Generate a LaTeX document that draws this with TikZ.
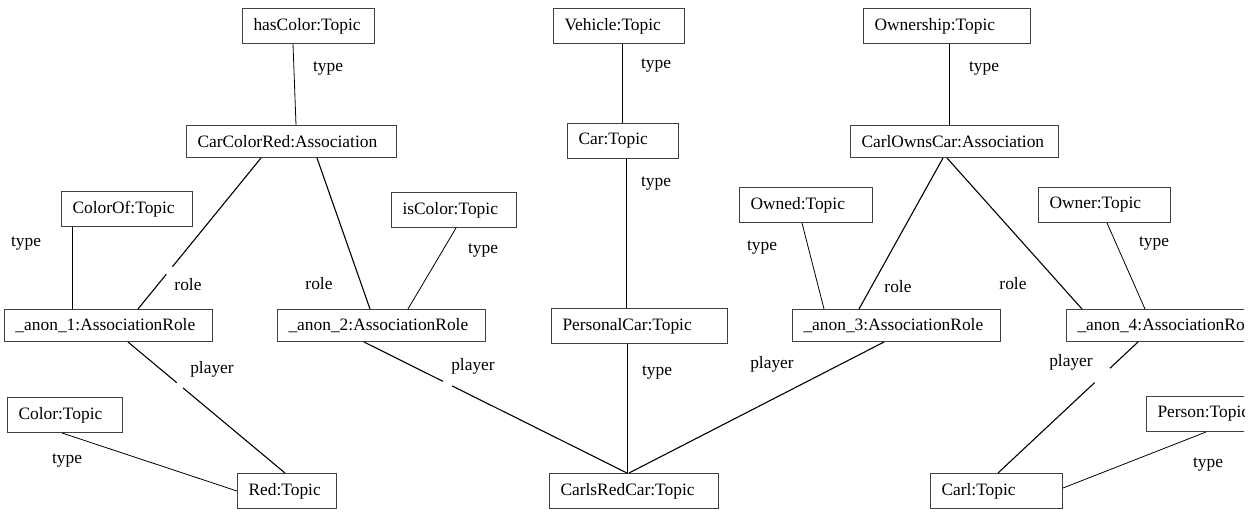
\documentclass[tikz,border=0pt]{standalone}
\usepackage{fontspec}
\setmainfont{Liberation Serif}
\usetikzlibrary{positioning,calc}

\begin{document}
\begin{tikzpicture}[x=1pt,y=-1pt,font=\fontsize{17.4}{20}\selectfont,
   topic/.style={draw=black!75,line width=1pt,anchor=north west,text width=#1,
                 align=left,inner xsep=11pt,inner ysep=0pt,minimum height=35pt},
   assoc/.style={topic=#1,minimum height=32pt},
   lbl/.style={inner sep=0pt},
   tline/.style={line width=0.8pt},
   rline/.style={line width=1.1pt}]
   \useasboundingbox (0,0) rectangle (1256,512);
   \clip (0,0) rectangle (1244,512);
   % topics and associations
   \node[topic=110pt] (hc) at (242,8) {hasColor:Topic};
   \node[topic=109pt] (veh) at (553,8) {Vehicle:Topic};
   \node[topic=145pt] (own) at (863,8) {Ownership:Topic};
   \node[assoc=188pt] (ccr) at (186,125) {CarColorRed:Association};
   \node[topic=89pt] (car) at (567,123) {Car:Topic};
   \node[assoc=186pt] (coc) at (850,125) {CarlOwnsCar:Association};
   \node[topic=109pt] (cof) at (61,191) {ColorOf:Topic};
   \node[topic=103pt] (isc) at (391,192) {isColor:Topic};
   \node[topic=111pt] (owd) at (739,187) {Owned:Topic};
   \node[topic=110pt] (owr) at (1038,187) {Owner:Topic};
   \node[assoc=186pt] (a1) at (4,309) {\_anon\_1:AssociationRole};
   \node[assoc=186pt] (a2) at (277,309) {\_anon\_2:AssociationRole};
   \node[topic=154pt] (pc) at (551,308) {PersonalCar:Topic};
   \node[assoc=186pt] (a3) at (792,309) {\_anon\_3:AssociationRole};
   \node[assoc=186pt] (a4) at (1066,309) {\_anon\_4:AssociationRole};
   \node[topic=93pt] (col) at (7,397) {Color:Topic};
   \node[topic=103pt] (per) at (1146,396) {Person:Topic};
   \node[topic=77pt] (red) at (237,473) {Red:Topic};
   \node[topic=147pt] (crc) at (549,473) {CarlsRedCar:Topic};
   \node[topic=110pt] (carl) at (930,473) {Carl:Topic};

   % edge labels
   \node[lbl] (l1) at (328,68) {type};
   \node[lbl] (l2) at (656,65) {type};
   \node[lbl] (l3) at (984,68) {type};
   \node[lbl] (l4) at (656,183) {type};
   \node[lbl] (l5) at (26,243) {type};
   \node[lbl] (l6) at (483,250) {type};
   \node[lbl] (l7) at (762,247) {type};
   \node[lbl] (l8) at (1154,243) {type};
   \node[lbl] (l9) at (188,285) {role};
   \node[lbl] (l10) at (319,284) {role};
   \node[lbl] (l11) at (898,287) {role};
   \node[lbl] (l12) at (1013,284) {role};
   \node[lbl] (l13) at (212,369) {player};
   \node[lbl] (l14) at (473,366) {player};
   \node[lbl] (l15) at (657,372) {type};
   \node[lbl] (l16) at (772,364) {player};
   \node[lbl] (l17) at (1071,362) {player};
   \node[lbl] (l18) at (67,460) {type};
   \node[lbl] (l19) at (1208,464) {type};

   \path[tline]
    ([xshift=51pt]hc.south west) edge ([xshift=110pt]ccr.north west)
    ([xshift=69pt]veh.south west) edge ([xshift=55pt]car.north west)
    ([xshift=86pt]own.south west) edge ([xshift=99pt]coc.north west)
    ([xshift=11pt]cof.south west) edge ([xshift=68pt]a1.north west)
    ([xshift=65pt]isc.south west) edge ([xshift=131pt]a2.north west)
    ([xshift=59pt]car.south west) edge ([xshift=75pt]pc.north west)
    ([xshift=63pt]owd.south west) edge ([xshift=32pt]a3.north west)
    ([xshift=69pt]owr.south west) edge ([xshift=79pt]a4.north west)
    ([xshift=55pt]col.south west) edge (red.west)
    ([xshift=76pt]pc.south west) edge ([xshift=78pt]crc.north west)
    ([xshift=60pt]per.south west) edge ([yshift=3pt]carl.east);
   \path[rline]
    ([xshift=131pt]ccr.south west) edge ([xshift=93pt]a2.north west)
    ([xshift=93pt]coc.south west) edge ([xshift=67pt]a3.north west)
    ([xshift=97pt]coc.south west) edge ([xshift=16pt]a4.north west)
    ([xshift=92pt]a3.south west) edge ([xshift=80pt]crc.north west);

   % connectors broken by a gap
   \coordinate (r1) at ([xshift=75pt]ccr.south west);
   \coordinate (r2) at ([xshift=134pt]a1.north west);
   \draw[rline] (r1) -- ($(r1)!.72!(r2)$) ($(r1)!.77!(r2)$) -- (r2);
   \coordinate (p1) at ([xshift=124pt]a1.south west);
   \coordinate (p2) at ([xshift=48pt]red.north west);
   \draw[rline] (p1) -- ($(p1)!.31!(p2)$) ($(p1)!.35!(p2)$) -- (p2);
   \coordinate (q1) at ([xshift=87pt]a2.south west);
   \coordinate (q2) at ([xshift=78pt]crc.north west);
   \draw[rline] (q1) -- ($(q1)!.30!(q2)$) ($(q1)!.335!(q2)$) -- (q2);
   \coordinate (s1) at ([xshift=72pt]a4.south west);
   \coordinate (s2) at ([xshift=68pt]carl.north west);
   \draw[rline] (s1) -- ($(s1)!.20!(s2)$) ($(s1)!.31!(s2)$) -- (s2);
\end{tikzpicture}
\end{document}
